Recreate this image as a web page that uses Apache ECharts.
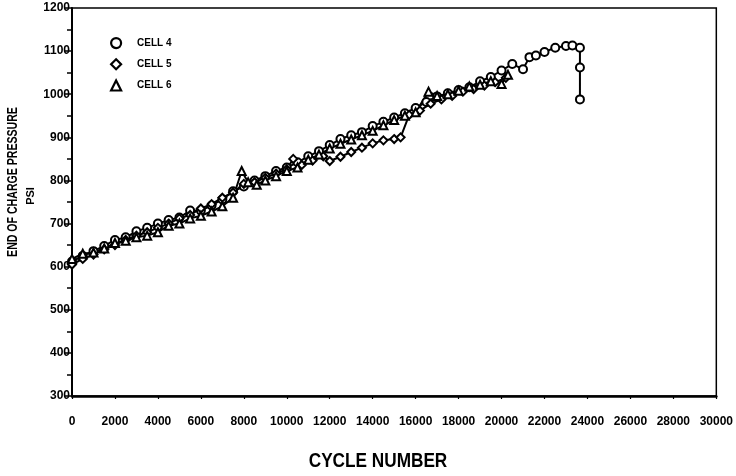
<!DOCTYPE html>
<html><head><meta charset="utf-8">
<script src="https://cdn.jsdelivr.net/npm/echarts@6/dist/echarts.min.js"></script>
<style>html,body{margin:0;padding:0;background:#fff}#c{width:736px;height:476px}</style>
</head><body><div id="c"></div>
<script>
const FONT = "'Liberation Sans',Arial,sans-serif";
const seriesNames = ['CELL 4', 'CELL 5', 'CELL 6'];
const xTicks = [0, 2000, 4000, 6000, 8000, 10000, 12000, 14000, 16000, 18000, 20000, 22000, 24000, 26000, 28000, 30000];
const yTicks = [300, 400, 500, 600, 700, 800, 900, 1000, 1100, 1200];

const cell4Cycles = [0,500,1000,1500,2000,2500,3000,3500,4000,4500,5000,5500,6000,6500,7000,7500,8000,8500,9000,9500,10000,10500,11000,11500,12000,12500,13000,13500,14000,14500,15000,15500,16000,16500,17000,17500,18000,18500,19000,19500,20000,20500,21000,21300,21600,22000,22500,23000,23300,23650,23650,23650];
const cell4Psi    = [612,625,636,648,662,668,682,690,700,708,714,730,730,742,756,775,786,800,810,822,830,842,856,868,882,896,905,912,926,936,946,956,968,982,995,1002,1010,1016,1030,1040,1055,1070,1058,1086,1090,1098,1108,1112,1113,1108,1062,988];

const cell5Cycles = [0,500,1000,1500,2000,2500,3000,3500,4000,4500,5000,5500,6000,6500,7000,7500,8000,8500,9000,9500,10000,10300,10700,11200,11700,12000,12500,13000,13500,14000,14500,15000,15300,15700,16200,16700,17200,17700,18200,18700,19200,19700,20200];
const cell5Psi    = [605,618,628,640,650,662,672,680,690,700,712,720,735,745,760,772,792,796,806,816,826,850,836,846,856,845,855,866,876,886,893,896,900,952,962,978,988,996,1006,1012,1020,1028,1038];

const cell6Cycles = [0,500,1000,1500,2000,2500,3000,3500,4000,4500,5000,5500,6000,6500,7000,7500,7900,8200,8600,9000,9500,10000,10500,11000,11500,12000,12500,13000,13500,14000,14500,15000,15500,16000,16600,17000,17500,18000,18500,19000,19500,20000,20300];
const cell6Psi    = [618,630,633,642,655,660,668,672,680,695,700,712,718,728,740,760,822,796,790,800,810,822,830,848,860,874,885,895,905,915,928,940,950,958,1006,996,1000,1008,1018,1022,1030,1024,1045];

function pairs(xs, ys){ return xs.map((x,i)=>[x, ys[i]]); }

const chart = echarts.init(document.getElementById('c'));
const lineSeries = (name, xs, ys, symbol) => ({
  name, type:'line', data: pairs(xs, ys), symbol, symbolSize: 8,
  showAllSymbol: true,
  lineStyle:{color:'#000', width:2},
  itemStyle:{color:'#fff', borderColor:'#000', borderWidth:2},
  emphasis:{disabled:true}, animation:false, z: 3
});
chart.setOption({
  animation:false,
  grid:{left:72, right:18, top:8, bottom:80, show:true, borderColor:'#000', borderWidth:1.5, backgroundColor:'transparent'},
  legend:{
    orient:'vertical', left:110, top:37, padding:0, itemWidth:10, itemHeight:10, itemGap:9,
    data:[{name:seriesNames[0], icon:'circle'},{name:seriesNames[1], icon:'diamond'},{name:seriesNames[2], icon:'triangle'}],
    itemStyle:{color:'#fff', borderColor:'#000', borderWidth:2.2},
    textStyle:{fontFamily:FONT, fontWeight:'bold', fontSize:10, color:'#000', padding:[0,0,0,11]},
    selectedMode:false
  },
  xAxis:{
    type:'value', min:xTicks[0], max:xTicks[xTicks.length-1], interval:2000,
    axisLine:{show:true, lineStyle:{color:'#000', width:2.5}},
    axisTick:{show:true, length:3, lineStyle:{color:'#000', width:1.2}},
    axisLabel:{margin:20, color:'#000', fontFamily:FONT, fontWeight:'bold', fontSize:12, interval:0, hideOverlap:false,
      showMaxLabel:true, showMinLabel:true, formatter: v => String(v)},
    splitLine:{show:false}
  },
  yAxis:{
    type:'value', min:yTicks[0], max:yTicks[yTicks.length-1], interval:100,
    axisLine:{show:true, lineStyle:{color:'#000', width:2}},
    axisTick:{show:true, length:7, lineStyle:{color:'#000', width:1.5}},
    minorTick:{show:true, splitNumber:2, length:5, lineStyle:{color:'#000', width:1.5}},
    axisLabel:{margin:2, color:'#000', fontFamily:FONT, fontWeight:'bold', fontSize:12, formatter: v => String(v)},
    splitLine:{show:false}
  },
  graphic:[
    {type:'text', x:13, y:182, rotation:Math.PI/2, scaleX:0.755,
     style:{text:'END OF CHARGE PRESSURE', align:'center', verticalAlign:'middle', fill:'#000', font:"bold 14px "+FONT}},
    {type:'text', x:31, y:196, rotation:Math.PI/2,
     style:{text:'PSI', align:'center', verticalAlign:'middle', fill:'#000', font:"bold 11px "+FONT}},
    {type:'text', x:378, y:461, scaleX:0.86,
     style:{text:'CYCLE NUMBER', align:'center', verticalAlign:'middle', fill:'#000', font:"bold 20px "+FONT}}
  ],
  series:[
    lineSeries(seriesNames[0], cell4Cycles, cell4Psi, 'circle'),
    lineSeries(seriesNames[1], cell5Cycles, cell5Psi, 'diamond'),
    lineSeries(seriesNames[2], cell6Cycles, cell6Psi, 'triangle')
  ]
});
</script></body></html>
